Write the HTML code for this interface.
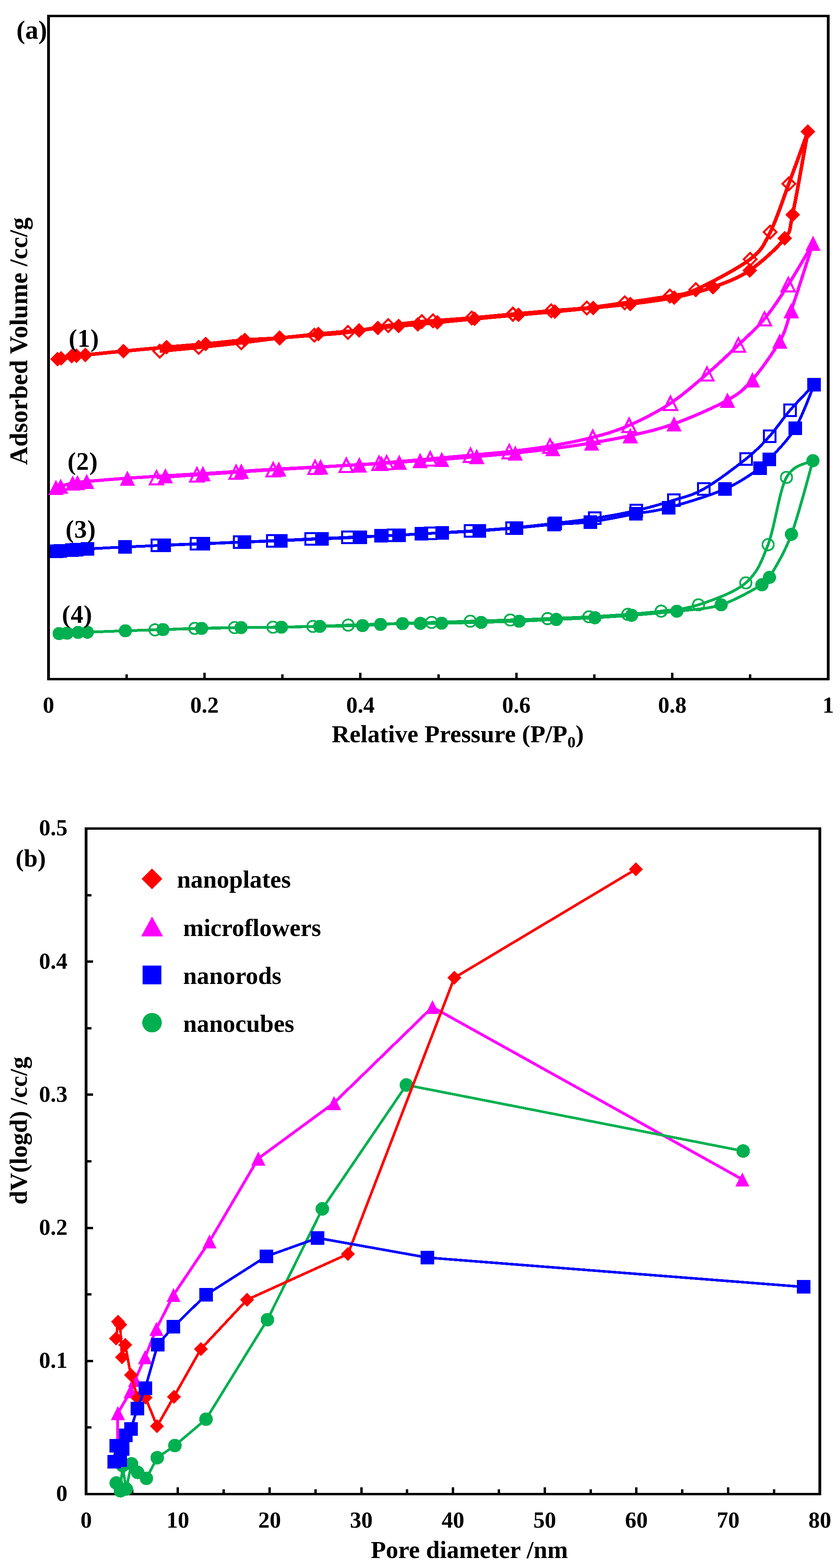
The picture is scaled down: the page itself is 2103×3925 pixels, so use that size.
<!DOCTYPE html>
<html><head><meta charset="utf-8"><title>Figure</title>
<style>html,body{margin:0;padding:0;background:#fff;}svg{display:block;}</style>
</head><body>
<svg shape-rendering="crispEdges" width="2103" height="3925" viewBox="0 0 2103 3925" font-family="'Liberation Serif', 'Times New Roman', serif" font-weight="bold">
<rect width="2103" height="3925" fill="#fff"/>
<rect x="121.5" y="40" width="1952" height="1660" fill="none" stroke="#000" stroke-width="6.5"/>
<rect x="313.7" y="1688" width="6" height="12" fill="#000"/>
<rect x="508.9" y="1684" width="6" height="16" fill="#000"/>
<rect x="704.1" y="1688" width="6" height="12" fill="#000"/>
<rect x="899.3" y="1684" width="6" height="16" fill="#000"/>
<rect x="1094.5" y="1688" width="6" height="12" fill="#000"/>
<rect x="1289.7" y="1684" width="6" height="16" fill="#000"/>
<rect x="1484.9" y="1688" width="6" height="12" fill="#000"/>
<rect x="1680.1" y="1684" width="6" height="16" fill="#000"/>
<rect x="1875.3" y="1688" width="6" height="12" fill="#000"/>
<path d="M148,1586 C151.3,1585.8 160.1,1585.5 168,1585 C175.9,1584.5 187,1583.4 195.4,1583 C203.8,1582.6 198.8,1583.2 218.6,1582.5 C238.4,1581.8 282.4,1580.1 314,1579 C345.6,1577.9 376.2,1577 408,1576 C439.8,1575 472.2,1573.8 504.8,1573 C537.4,1572.2 570.2,1571.5 603.5,1571 C636.8,1570.5 671.8,1570.5 704.6,1570 C737.5,1569.5 766.7,1568.7 800.6,1568 C834.5,1567.3 882.4,1566.8 907.8,1566 C933.2,1565.2 936.1,1563.8 952.8,1563 C969.5,1562.2 991.2,1561.4 1007.8,1561 C1024.4,1560.6 1036.1,1560.6 1052.4,1560.4 C1068.7,1560.2 1080.3,1560.4 1105.7,1560 C1131.1,1559.6 1172.2,1558.8 1204.6,1558 C1236.9,1557.2 1268.5,1556.2 1299.8,1555 C1331.1,1553.8 1361,1552.2 1392.6,1550.7 C1424.2,1549.2 1457.8,1548 1489.3,1546.3 C1520.8,1544.5 1547.1,1542.9 1581.3,1540.2 C1615.5,1537.5 1657.2,1534.4 1694.5,1530 C1731.8,1525.6 1769.9,1525 1805.4,1514 C1840.9,1503 1887.3,1475.3 1907.5,1463.8 C1927.7,1452.3 1914.1,1466.2 1926.4,1445.2 C1938.7,1424.2 1963.3,1386.2 1981.4,1337.5 C1999.5,1288.8 2026.2,1183.9 2035.2,1153.2" fill="none" stroke="#00B050" stroke-width="7" stroke-linejoin="round"/>
<path d="M2035.2,1153.2 C2024.2,1160.2 1987.7,1160 1969,1195 C1950.3,1230 1940,1319.3 1923,1363.3 C1906,1407.3 1896.2,1433.9 1867.2,1459 C1838.2,1484.1 1784,1502.2 1748.7,1514 C1713.4,1525.8 1684.7,1525.8 1655.2,1529.8 C1625.7,1533.8 1601.9,1535.4 1571.7,1537.8 C1541.5,1540.2 1507.8,1542.2 1474.3,1544 C1440.8,1545.8 1403.7,1547.2 1370.9,1548.5 C1338.1,1549.8 1309.7,1550.9 1277.4,1552 C1245.2,1553.1 1210.2,1554 1177.4,1555 C1144.6,1556 1131.4,1556.4 1080.4,1558 C1029.5,1559.6 921.2,1563.1 871.7,1564.8 C822.2,1566.5 814.9,1567.1 783.5,1568 C752.1,1568.9 716.2,1569.5 683.5,1570 C650.8,1570.5 620,1570.5 587.4,1571 C554.8,1571.5 521,1572 487.8,1573 C454.6,1574 404.6,1576.1 388,1576.7" fill="none" stroke="#00B050" stroke-width="7" stroke-linejoin="round"/>
<circle cx="1969" cy="1195" r="14.2" fill="none" stroke="#00B050" stroke-width="4.5"/>
<circle cx="1923" cy="1363.3" r="14.2" fill="none" stroke="#00B050" stroke-width="4.5"/>
<circle cx="1867.2" cy="1459" r="14.2" fill="none" stroke="#00B050" stroke-width="4.5"/>
<circle cx="1748.7" cy="1514" r="14.2" fill="none" stroke="#00B050" stroke-width="4.5"/>
<circle cx="1655.2" cy="1529.8" r="14.2" fill="none" stroke="#00B050" stroke-width="4.5"/>
<circle cx="1571.7" cy="1537.8" r="14.2" fill="none" stroke="#00B050" stroke-width="4.5"/>
<circle cx="1474.3" cy="1544" r="14.2" fill="none" stroke="#00B050" stroke-width="4.5"/>
<circle cx="1370.9" cy="1548.5" r="14.2" fill="none" stroke="#00B050" stroke-width="4.5"/>
<circle cx="1277.4" cy="1552" r="14.2" fill="none" stroke="#00B050" stroke-width="4.5"/>
<circle cx="1177.4" cy="1555" r="14.2" fill="none" stroke="#00B050" stroke-width="4.5"/>
<circle cx="1080.4" cy="1558" r="14.2" fill="none" stroke="#00B050" stroke-width="4.5"/>
<circle cx="871.7" cy="1564.8" r="14.2" fill="none" stroke="#00B050" stroke-width="4.5"/>
<circle cx="783.5" cy="1568" r="14.2" fill="none" stroke="#00B050" stroke-width="4.5"/>
<circle cx="683.5" cy="1570" r="14.2" fill="none" stroke="#00B050" stroke-width="4.5"/>
<circle cx="587.4" cy="1571" r="14.2" fill="none" stroke="#00B050" stroke-width="4.5"/>
<circle cx="487.8" cy="1573" r="14.2" fill="none" stroke="#00B050" stroke-width="4.5"/>
<circle cx="388" cy="1576.7" r="14.2" fill="none" stroke="#00B050" stroke-width="4.5"/>
<circle cx="148" cy="1586" r="16.5" fill="#00B050"/>
<circle cx="168" cy="1585" r="16.5" fill="#00B050"/>
<circle cx="195.4" cy="1583" r="16.5" fill="#00B050"/>
<circle cx="218.6" cy="1582.5" r="16.5" fill="#00B050"/>
<circle cx="314" cy="1579" r="16.5" fill="#00B050"/>
<circle cx="408" cy="1576" r="16.5" fill="#00B050"/>
<circle cx="504.8" cy="1573" r="16.5" fill="#00B050"/>
<circle cx="603.5" cy="1571" r="16.5" fill="#00B050"/>
<circle cx="704.6" cy="1570" r="16.5" fill="#00B050"/>
<circle cx="800.6" cy="1568" r="16.5" fill="#00B050"/>
<circle cx="907.8" cy="1566" r="16.5" fill="#00B050"/>
<circle cx="952.8" cy="1563" r="16.5" fill="#00B050"/>
<circle cx="1007.8" cy="1561" r="16.5" fill="#00B050"/>
<circle cx="1052.4" cy="1560.4" r="16.5" fill="#00B050"/>
<circle cx="1105.7" cy="1560" r="16.5" fill="#00B050"/>
<circle cx="1204.6" cy="1558" r="16.5" fill="#00B050"/>
<circle cx="1299.8" cy="1555" r="16.5" fill="#00B050"/>
<circle cx="1392.6" cy="1550.7" r="16.5" fill="#00B050"/>
<circle cx="1489.3" cy="1546.3" r="16.5" fill="#00B050"/>
<circle cx="1581.3" cy="1540.2" r="16.5" fill="#00B050"/>
<circle cx="1694.5" cy="1530" r="16.5" fill="#00B050"/>
<circle cx="1805.4" cy="1514" r="16.5" fill="#00B050"/>
<circle cx="1907.5" cy="1463.8" r="16.5" fill="#00B050"/>
<circle cx="1926.4" cy="1445.2" r="16.5" fill="#00B050"/>
<circle cx="1981.4" cy="1337.5" r="16.5" fill="#00B050"/>
<circle cx="2035.2" cy="1153.2" r="16.5" fill="#00B050"/>
<path d="M140,1219.8 C142,1219.3 145,1218.8 152,1217 C159,1215.2 175,1210.5 182,1209 C189,1207.5 188.2,1208.7 194,1208 C199.8,1207.3 196.2,1206.8 217,1205 C237.8,1203.2 286.2,1199.3 319,1197 C351.8,1194.7 382.5,1192.9 414,1191 C445.5,1189.1 476.3,1187.5 508,1185.6 C539.7,1183.7 572.3,1181.5 604,1179.6 C635.7,1177.7 664.9,1175.8 698,1174 C731.1,1172.2 769,1170.3 802.6,1168.6 C836.2,1166.8 874.2,1164.9 899.6,1163.5 C925,1162.1 938.1,1161.1 954.8,1160 C971.5,1158.9 983.5,1158.2 999.6,1157 C1015.8,1155.8 1034,1154.2 1051.7,1153 C1069.4,1151.8 1082.4,1151.7 1106,1150 C1129.6,1148.3 1162.8,1145.5 1193.5,1142.8 C1224.2,1140.1 1258.2,1137.3 1290,1134 C1321.8,1130.7 1352.2,1127.2 1384,1123 C1415.8,1118.8 1448.7,1114.2 1481,1108.8 C1513.3,1103.4 1543.6,1098.5 1578,1090.5 C1612.4,1082.5 1646.8,1075.8 1687.4,1061 C1728,1046.2 1788.7,1020 1821.4,1001.6 C1854.1,983.2 1861.9,975.2 1883.7,950.5 C1905.5,925.8 1936.1,882.5 1952.3,853.6 C1968.5,824.7 1967.1,818 1981,777.2 C1994.9,736.4 2026.4,637 2035.5,609" fill="none" stroke="#FF00FF" stroke-width="8" stroke-linejoin="round"/>
<path d="M2035.5,609 C2025.2,626.3 1993.8,681.2 1973.5,712.7 C1953.2,744.2 1934.8,772.9 1914,798 C1893.2,823.1 1872.5,840.5 1848.5,863.5 C1824.5,886.5 1798.3,911.7 1770,936 C1741.7,960.3 1711.2,987.9 1678.7,1009.4 C1646.2,1030.9 1607.5,1050.6 1575,1064.8 C1542.5,1079 1517,1086.2 1484,1094.8 C1451,1103.4 1411.8,1110.7 1377,1116.6 C1342.2,1122.5 1308.2,1126.6 1275,1130.4 C1241.8,1134.2 1211,1136.5 1178,1139.6 C1145,1142.6 1112,1145.6 1077,1148.7 C1042,1151.8 989.4,1156.1 968,1158 C946.6,1159.9 965.5,1158.9 948.7,1160 C931.9,1161.1 893.7,1163.1 867,1164.8 C840.3,1166.5 819.2,1168.2 788.7,1170 C758.2,1171.8 717,1173.7 684,1175.7 C651,1177.7 622.8,1179.9 591,1182 C559.2,1184.1 526.2,1186.2 493,1188.5 C459.8,1190.8 408.6,1194.5 391.7,1195.7" fill="none" stroke="#FF00FF" stroke-width="8" stroke-linejoin="round"/>
<path d="M1973.5,696 L1990.2,729.5 L1956.8,729.5Z" fill="none" stroke="#FF00FF" stroke-width="5" stroke-linejoin="miter"/>
<path d="M1914,781.2 L1930.8,814.8 L1897.2,814.8Z" fill="none" stroke="#FF00FF" stroke-width="5" stroke-linejoin="miter"/>
<path d="M1848.5,846.8 L1865.2,880.2 L1831.8,880.2Z" fill="none" stroke="#FF00FF" stroke-width="5" stroke-linejoin="miter"/>
<path d="M1770,919.2 L1786.8,952.8 L1753.2,952.8Z" fill="none" stroke="#FF00FF" stroke-width="5" stroke-linejoin="miter"/>
<path d="M1678.7,992.6 L1695.5,1026.2 L1662,1026.2Z" fill="none" stroke="#FF00FF" stroke-width="5" stroke-linejoin="miter"/>
<path d="M1575,1048 L1591.8,1081.5 L1558.2,1081.5Z" fill="none" stroke="#FF00FF" stroke-width="5" stroke-linejoin="miter"/>
<path d="M1484,1078 L1500.8,1111.5 L1467.2,1111.5Z" fill="none" stroke="#FF00FF" stroke-width="5" stroke-linejoin="miter"/>
<path d="M1377,1099.8 L1393.8,1133.3 L1360.2,1133.3Z" fill="none" stroke="#FF00FF" stroke-width="5" stroke-linejoin="miter"/>
<path d="M1275,1113.7 L1291.8,1147.2 L1258.2,1147.2Z" fill="none" stroke="#FF00FF" stroke-width="5" stroke-linejoin="miter"/>
<path d="M1178,1122.8 L1194.8,1156.3 L1161.2,1156.3Z" fill="none" stroke="#FF00FF" stroke-width="5" stroke-linejoin="miter"/>
<path d="M1077,1132 L1093.8,1165.5 L1060.2,1165.5Z" fill="none" stroke="#FF00FF" stroke-width="5" stroke-linejoin="miter"/>
<path d="M968,1141.2 L984.8,1174.8 L951.2,1174.8Z" fill="none" stroke="#FF00FF" stroke-width="5" stroke-linejoin="miter"/>
<path d="M948.7,1143.2 L965.5,1176.8 L932,1176.8Z" fill="none" stroke="#FF00FF" stroke-width="5" stroke-linejoin="miter"/>
<path d="M867,1148 L883.8,1181.5 L850.2,1181.5Z" fill="none" stroke="#FF00FF" stroke-width="5" stroke-linejoin="miter"/>
<path d="M788.7,1153.2 L805.5,1186.8 L772,1186.8Z" fill="none" stroke="#FF00FF" stroke-width="5" stroke-linejoin="miter"/>
<path d="M684,1159 L700.8,1192.5 L667.2,1192.5Z" fill="none" stroke="#FF00FF" stroke-width="5" stroke-linejoin="miter"/>
<path d="M591,1165.2 L607.8,1198.8 L574.2,1198.8Z" fill="none" stroke="#FF00FF" stroke-width="5" stroke-linejoin="miter"/>
<path d="M493,1171.8 L509.8,1205.2 L476.2,1205.2Z" fill="none" stroke="#FF00FF" stroke-width="5" stroke-linejoin="miter"/>
<path d="M391.7,1179 L408.4,1212.5 L374.9,1212.5Z" fill="none" stroke="#FF00FF" stroke-width="5" stroke-linejoin="miter"/>
<path d="M140,1200.5 L159.2,1239 L120.8,1239Z" fill="#FF00FF" stroke-linejoin="miter"/>
<path d="M152,1197.8 L171.2,1236.2 L132.8,1236.2Z" fill="#FF00FF" stroke-linejoin="miter"/>
<path d="M182,1189.8 L201.2,1228.2 L162.8,1228.2Z" fill="#FF00FF" stroke-linejoin="miter"/>
<path d="M194,1188.8 L213.2,1227.2 L174.8,1227.2Z" fill="#FF00FF" stroke-linejoin="miter"/>
<path d="M217,1185.8 L236.2,1224.2 L197.8,1224.2Z" fill="#FF00FF" stroke-linejoin="miter"/>
<path d="M319,1177.8 L338.2,1216.2 L299.8,1216.2Z" fill="#FF00FF" stroke-linejoin="miter"/>
<path d="M414,1171.8 L433.2,1210.2 L394.8,1210.2Z" fill="#FF00FF" stroke-linejoin="miter"/>
<path d="M508,1166.3 L527.2,1204.8 L488.8,1204.8Z" fill="#FF00FF" stroke-linejoin="miter"/>
<path d="M604,1160.3 L623.2,1198.8 L584.8,1198.8Z" fill="#FF00FF" stroke-linejoin="miter"/>
<path d="M698,1154.8 L717.2,1193.2 L678.8,1193.2Z" fill="#FF00FF" stroke-linejoin="miter"/>
<path d="M802.6,1149.3 L821.9,1187.8 L783.4,1187.8Z" fill="#FF00FF" stroke-linejoin="miter"/>
<path d="M899.6,1144.2 L918.9,1182.8 L880.4,1182.8Z" fill="#FF00FF" stroke-linejoin="miter"/>
<path d="M954.8,1140.8 L974,1179.2 L935.5,1179.2Z" fill="#FF00FF" stroke-linejoin="miter"/>
<path d="M999.6,1137.8 L1018.9,1176.2 L980.4,1176.2Z" fill="#FF00FF" stroke-linejoin="miter"/>
<path d="M1051.7,1133.8 L1071,1172.2 L1032.5,1172.2Z" fill="#FF00FF" stroke-linejoin="miter"/>
<path d="M1106,1130.8 L1125.2,1169.2 L1086.8,1169.2Z" fill="#FF00FF" stroke-linejoin="miter"/>
<path d="M1193.5,1123.5 L1212.8,1162 L1174.2,1162Z" fill="#FF00FF" stroke-linejoin="miter"/>
<path d="M1290,1114.8 L1309.2,1153.2 L1270.8,1153.2Z" fill="#FF00FF" stroke-linejoin="miter"/>
<path d="M1384,1103.8 L1403.2,1142.2 L1364.8,1142.2Z" fill="#FF00FF" stroke-linejoin="miter"/>
<path d="M1481,1089.5 L1500.2,1128 L1461.8,1128Z" fill="#FF00FF" stroke-linejoin="miter"/>
<path d="M1578,1071.2 L1597.2,1109.8 L1558.8,1109.8Z" fill="#FF00FF" stroke-linejoin="miter"/>
<path d="M1687.4,1041.8 L1706.7,1080.2 L1668.2,1080.2Z" fill="#FF00FF" stroke-linejoin="miter"/>
<path d="M1821.4,982.4 L1840.7,1020.9 L1802.2,1020.9Z" fill="#FF00FF" stroke-linejoin="miter"/>
<path d="M1883.7,931.2 L1903,969.8 L1864.5,969.8Z" fill="#FF00FF" stroke-linejoin="miter"/>
<path d="M1952.3,834.4 L1971.5,872.9 L1933,872.9Z" fill="#FF00FF" stroke-linejoin="miter"/>
<path d="M1981,758 L2000.2,796.5 L1961.8,796.5Z" fill="#FF00FF" stroke-linejoin="miter"/>
<path d="M2035.5,589.8 L2054.8,628.2 L2016.2,628.2Z" fill="#FF00FF" stroke-linejoin="miter"/>
<path d="M143.9,898.9 C145.3,898.6 146.6,898.2 152.6,897 C158.6,895.8 173.3,892.8 179.8,891.7 C186.3,890.7 186,891.2 191.7,890.7 C197.4,890.2 194.4,890.5 213.9,888.5 C233.4,886.5 274.6,882.2 308.5,879 C342.4,875.8 383,872 417.4,869 C451.8,866 482.4,864 515,861 C547.6,858 582,853.5 613,851 C644,848.5 670.4,848.5 701,846 C731.6,843.5 763.5,839.2 796.5,836 C829.5,832.8 873.9,829.5 898.7,827 C923.6,824.5 929.1,822.8 945.6,821 C962.1,819.2 981.3,817.5 998,816 C1014.7,814.5 1029.8,813.5 1046,812 C1062.2,810.5 1071.3,809.3 1095,807 C1118.7,804.7 1154.2,801.2 1188,798 C1221.8,794.8 1264.5,791 1298,788 C1331.5,785 1357.8,782.9 1389,780 C1420.2,777.1 1453.5,773.8 1485,770.6 C1516.5,767.4 1544.2,765.1 1578,760.8 C1611.8,756.5 1653.6,751.7 1688,744.7 C1722.4,737.7 1753,730.3 1784.5,719 C1816,707.7 1847,697.1 1877,676.7 C1907,656.3 1946.6,620 1964.5,596.8 C1982.4,573.6 1974.5,582.3 1984.2,537.7 C1993.9,493.1 2016.1,364.1 2022.5,329.4" fill="none" stroke="#FF0000" stroke-width="9" stroke-linejoin="round"/>
<path d="M2022.5,329.4 C2014.5,351.2 1990.5,418.3 1974.8,460.2 C1959.1,502.1 1944.5,549.5 1928.4,581 C1912.3,612.5 1909.1,625 1878,649 C1846.9,673 1775.5,709.7 1742,725 C1708.5,740.3 1706.7,735.5 1677,741 C1647.3,746.5 1598.7,753 1564,758 C1529.3,763 1499.7,767.7 1469,771 C1438.3,774.3 1410.8,775.4 1380,778 C1349.2,780.6 1317.2,783.5 1284,786.5 C1250.8,789.5 1214.3,793.2 1181,796 C1147.7,798.8 1104.8,801.5 1084,803 C1063.2,804.5 1074.7,803 1056,805 C1037.3,807 1002.5,810.5 971.7,815 C940.9,819.5 901.8,828 871,832 C840.2,836 815.5,836.7 787,839 C758.5,841.3 730.5,842.8 700,846 C669.5,849.2 637.7,854.1 604,858 C570.3,861.9 531.8,866.1 497.8,869.6 C463.8,873.1 416.3,877.4 400,879" fill="none" stroke="#FF0000" stroke-width="9" stroke-linejoin="round"/>
<path d="M1974.8,444.2 L1990.8,460.2 L1974.8,476.2 L1958.8,460.2Z" fill="none" stroke="#FF0000" stroke-width="5"/>
<path d="M1928.4,565 L1944.4,581 L1928.4,597 L1912.4,581Z" fill="none" stroke="#FF0000" stroke-width="5"/>
<path d="M1878,633 L1894,649 L1878,665 L1862,649Z" fill="none" stroke="#FF0000" stroke-width="5"/>
<path d="M1742,709 L1758,725 L1742,741 L1726,725Z" fill="none" stroke="#FF0000" stroke-width="5"/>
<path d="M1677,725 L1693,741 L1677,757 L1661,741Z" fill="none" stroke="#FF0000" stroke-width="5"/>
<path d="M1564,742 L1580,758 L1564,774 L1548,758Z" fill="none" stroke="#FF0000" stroke-width="5"/>
<path d="M1469,755 L1485,771 L1469,787 L1453,771Z" fill="none" stroke="#FF0000" stroke-width="5"/>
<path d="M1380,762 L1396,778 L1380,794 L1364,778Z" fill="none" stroke="#FF0000" stroke-width="5"/>
<path d="M1284,770.5 L1300,786.5 L1284,802.5 L1268,786.5Z" fill="none" stroke="#FF0000" stroke-width="5"/>
<path d="M1181,780 L1197,796 L1181,812 L1165,796Z" fill="none" stroke="#FF0000" stroke-width="5"/>
<path d="M1084,787 L1100,803 L1084,819 L1068,803Z" fill="none" stroke="#FF0000" stroke-width="5"/>
<path d="M1056,789 L1072,805 L1056,821 L1040,805Z" fill="none" stroke="#FF0000" stroke-width="5"/>
<path d="M971.7,799 L987.7,815 L971.7,831 L955.7,815Z" fill="none" stroke="#FF0000" stroke-width="5"/>
<path d="M871,816 L887,832 L871,848 L855,832Z" fill="none" stroke="#FF0000" stroke-width="5"/>
<path d="M787,823 L803,839 L787,855 L771,839Z" fill="none" stroke="#FF0000" stroke-width="5"/>
<path d="M700,830 L716,846 L700,862 L684,846Z" fill="none" stroke="#FF0000" stroke-width="5"/>
<path d="M604,842 L620,858 L604,874 L588,858Z" fill="none" stroke="#FF0000" stroke-width="5"/>
<path d="M497.8,853.6 L513.8,869.6 L497.8,885.6 L481.8,869.6Z" fill="none" stroke="#FF0000" stroke-width="5"/>
<path d="M400,863 L416,879 L400,895 L384,879Z" fill="none" stroke="#FF0000" stroke-width="5"/>
<path d="M143.9,880.4 L162.4,898.9 L143.9,917.4 L125.4,898.9Z" fill="#FF0000"/>
<path d="M152.6,878.5 L171.1,897 L152.6,915.5 L134.1,897Z" fill="#FF0000"/>
<path d="M179.8,873.2 L198.3,891.7 L179.8,910.2 L161.3,891.7Z" fill="#FF0000"/>
<path d="M191.7,872.2 L210.2,890.7 L191.7,909.2 L173.2,890.7Z" fill="#FF0000"/>
<path d="M213.9,870 L232.4,888.5 L213.9,907 L195.4,888.5Z" fill="#FF0000"/>
<path d="M308.5,860.5 L327,879 L308.5,897.5 L290,879Z" fill="#FF0000"/>
<path d="M417.4,850.5 L435.9,869 L417.4,887.5 L398.9,869Z" fill="#FF0000"/>
<path d="M515,842.5 L533.5,861 L515,879.5 L496.5,861Z" fill="#FF0000"/>
<path d="M613,832.5 L631.5,851 L613,869.5 L594.5,851Z" fill="#FF0000"/>
<path d="M701,827.5 L719.5,846 L701,864.5 L682.5,846Z" fill="#FF0000"/>
<path d="M796.5,817.5 L815,836 L796.5,854.5 L778,836Z" fill="#FF0000"/>
<path d="M898.7,808.5 L917.2,827 L898.7,845.5 L880.2,827Z" fill="#FF0000"/>
<path d="M945.6,802.5 L964.1,821 L945.6,839.5 L927.1,821Z" fill="#FF0000"/>
<path d="M998,797.5 L1016.5,816 L998,834.5 L979.5,816Z" fill="#FF0000"/>
<path d="M1046,793.5 L1064.5,812 L1046,830.5 L1027.5,812Z" fill="#FF0000"/>
<path d="M1095,788.5 L1113.5,807 L1095,825.5 L1076.5,807Z" fill="#FF0000"/>
<path d="M1188,779.5 L1206.5,798 L1188,816.5 L1169.5,798Z" fill="#FF0000"/>
<path d="M1298,769.5 L1316.5,788 L1298,806.5 L1279.5,788Z" fill="#FF0000"/>
<path d="M1389,761.5 L1407.5,780 L1389,798.5 L1370.5,780Z" fill="#FF0000"/>
<path d="M1485,752.1 L1503.5,770.6 L1485,789.1 L1466.5,770.6Z" fill="#FF0000"/>
<path d="M1578,742.3 L1596.5,760.8 L1578,779.3 L1559.5,760.8Z" fill="#FF0000"/>
<path d="M1688,726.2 L1706.5,744.7 L1688,763.2 L1669.5,744.7Z" fill="#FF0000"/>
<path d="M1784.5,700.5 L1803,719 L1784.5,737.5 L1766,719Z" fill="#FF0000"/>
<path d="M1877,658.2 L1895.5,676.7 L1877,695.2 L1858.5,676.7Z" fill="#FF0000"/>
<path d="M1964.5,578.3 L1983,596.8 L1964.5,615.3 L1946,596.8Z" fill="#FF0000"/>
<path d="M1984.2,519.2 L2002.7,537.7 L1984.2,556.2 L1965.7,537.7Z" fill="#FF0000"/>
<path d="M2022.5,310.9 L2041,329.4 L2022.5,347.9 L2004,329.4Z" fill="#FF0000"/>
<path d="M141.7,1380 C143.2,1379.8 144.6,1379.5 151,1379 C157.4,1378.5 173.2,1377.5 180,1377 C186.8,1376.5 185.6,1376.5 192,1376 C198.4,1375.5 198.4,1375.1 218.6,1374 C238.8,1372.9 280.9,1370.7 313,1369.2 C345.1,1367.7 378.4,1366.3 411,1365 C443.6,1363.7 475.1,1362.6 508.6,1361.3 C542.1,1360 579.5,1358.3 612,1357 C644.5,1355.7 671.1,1354.8 703.4,1353.5 C735.7,1352.2 772.5,1350.4 805.6,1349 C838.7,1347.6 877.4,1346.3 902,1345 C926.6,1343.7 937.3,1342.1 953.5,1341.3 C969.7,1340.5 982.1,1340.9 999,1340 C1015.9,1339.1 1037,1337 1055,1336 C1073,1335 1082.8,1335.2 1107,1334 C1131.2,1332.8 1168.9,1331.1 1200,1329 C1231.1,1326.9 1262.2,1324.2 1293.4,1321.5 C1324.6,1318.8 1356.3,1315.1 1387,1312.6 C1417.7,1310.1 1443.6,1310.9 1477.8,1306.5 C1512,1302.1 1559.2,1292 1592,1286 C1624.8,1280 1637.3,1280.9 1674.4,1270.6 C1711.5,1260.3 1776.5,1240.7 1814.6,1224.3 C1852.6,1207.9 1884.2,1184.3 1902.7,1172 C1921.2,1159.7 1910.9,1167 1925.6,1150.3 C1940.3,1133.6 1972.2,1103 1991,1071.7 C2009.8,1040.5 2030.5,980.9 2038.4,962.8" fill="none" stroke="#0000FF" stroke-width="7" stroke-linejoin="round"/>
<path d="M2038.4,962.8 C2028.2,973.6 1996.1,1005.9 1977.5,1027.4 C1958.9,1048.9 1944.8,1071.8 1926.6,1092 C1908.3,1112.2 1895.4,1126.5 1868,1148.5 C1840.6,1170.5 1792.2,1206.8 1762,1224 C1731.8,1241.2 1715.2,1243 1687,1252 C1658.8,1261 1626,1270.4 1593,1278 C1560,1285.6 1522.6,1292.1 1488.8,1297.4 C1455,1302.7 1424.9,1305.9 1390.4,1309.9 C1355.9,1313.9 1317.4,1318.3 1282,1321.5 C1246.6,1324.7 1212,1326.8 1178,1329 C1144,1331.2 1110.2,1333.2 1078,1335 C1045.8,1336.8 1019.5,1338.3 985,1340 C950.5,1341.7 905.4,1343.5 871,1345 C836.6,1346.5 810,1347.6 778.7,1349 C747.4,1350.4 712.9,1352.2 683,1353.5 C653.1,1354.8 631.4,1355.7 599.6,1357 C567.8,1358.3 526.3,1360 492,1361.3 C457.7,1362.6 410.3,1364.4 394,1365" fill="none" stroke="#0000FF" stroke-width="7" stroke-linejoin="round"/>
<rect x="1963" y="1012.9" width="29" height="29" fill="none" stroke="#0000FF" stroke-width="5"/>
<rect x="1912.1" y="1077.5" width="29" height="29" fill="none" stroke="#0000FF" stroke-width="5"/>
<rect x="1853.5" y="1134" width="29" height="29" fill="none" stroke="#0000FF" stroke-width="5"/>
<rect x="1747.5" y="1209.5" width="29" height="29" fill="none" stroke="#0000FF" stroke-width="5"/>
<rect x="1672.5" y="1237.5" width="29" height="29" fill="none" stroke="#0000FF" stroke-width="5"/>
<rect x="1578.5" y="1263.5" width="29" height="29" fill="none" stroke="#0000FF" stroke-width="5"/>
<rect x="1474.3" y="1282.9" width="29" height="29" fill="none" stroke="#0000FF" stroke-width="5"/>
<rect x="1375.9" y="1295.4" width="29" height="29" fill="none" stroke="#0000FF" stroke-width="5"/>
<rect x="1267.5" y="1307" width="29" height="29" fill="none" stroke="#0000FF" stroke-width="5"/>
<rect x="1163.5" y="1314.5" width="29" height="29" fill="none" stroke="#0000FF" stroke-width="5"/>
<rect x="1063.5" y="1320.5" width="29" height="29" fill="none" stroke="#0000FF" stroke-width="5"/>
<rect x="970.5" y="1325.5" width="29" height="29" fill="none" stroke="#0000FF" stroke-width="5"/>
<rect x="856.5" y="1330.5" width="29" height="29" fill="none" stroke="#0000FF" stroke-width="5"/>
<rect x="764.2" y="1334.5" width="29" height="29" fill="none" stroke="#0000FF" stroke-width="5"/>
<rect x="668.5" y="1339" width="29" height="29" fill="none" stroke="#0000FF" stroke-width="5"/>
<rect x="585.1" y="1342.5" width="29" height="29" fill="none" stroke="#0000FF" stroke-width="5"/>
<rect x="477.5" y="1346.8" width="29" height="29" fill="none" stroke="#0000FF" stroke-width="5"/>
<rect x="379.5" y="1350.5" width="29" height="29" fill="none" stroke="#0000FF" stroke-width="5"/>
<rect x="124.7" y="1363" width="34" height="34" fill="#0000FF"/>
<rect x="134" y="1362" width="34" height="34" fill="#0000FF"/>
<rect x="163" y="1360" width="34" height="34" fill="#0000FF"/>
<rect x="175" y="1359" width="34" height="34" fill="#0000FF"/>
<rect x="201.6" y="1357" width="34" height="34" fill="#0000FF"/>
<rect x="296" y="1352.2" width="34" height="34" fill="#0000FF"/>
<rect x="394" y="1348" width="34" height="34" fill="#0000FF"/>
<rect x="491.6" y="1344.3" width="34" height="34" fill="#0000FF"/>
<rect x="595" y="1340" width="34" height="34" fill="#0000FF"/>
<rect x="686.4" y="1336.5" width="34" height="34" fill="#0000FF"/>
<rect x="788.6" y="1332" width="34" height="34" fill="#0000FF"/>
<rect x="885" y="1328" width="34" height="34" fill="#0000FF"/>
<rect x="936.5" y="1324.3" width="34" height="34" fill="#0000FF"/>
<rect x="982" y="1323" width="34" height="34" fill="#0000FF"/>
<rect x="1038" y="1319" width="34" height="34" fill="#0000FF"/>
<rect x="1090" y="1317" width="34" height="34" fill="#0000FF"/>
<rect x="1183" y="1312" width="34" height="34" fill="#0000FF"/>
<rect x="1276.4" y="1304.5" width="34" height="34" fill="#0000FF"/>
<rect x="1370" y="1295.6" width="34" height="34" fill="#0000FF"/>
<rect x="1460.8" y="1289.5" width="34" height="34" fill="#0000FF"/>
<rect x="1575" y="1269" width="34" height="34" fill="#0000FF"/>
<rect x="1657.4" y="1253.6" width="34" height="34" fill="#0000FF"/>
<rect x="1797.6" y="1207.3" width="34" height="34" fill="#0000FF"/>
<rect x="1885.7" y="1155" width="34" height="34" fill="#0000FF"/>
<rect x="1908.6" y="1133.3" width="34" height="34" fill="#0000FF"/>
<rect x="1974" y="1054.7" width="34" height="34" fill="#0000FF"/>
<rect x="2021.4" y="945.8" width="34" height="34" fill="#0000FF"/>
<text x="121.5" y="1783.5" font-size="57" text-anchor="middle">0</text>
<text x="511.9" y="1783.5" font-size="57" text-anchor="middle">0.2</text>
<text x="902.3" y="1783.5" font-size="57" text-anchor="middle">0.4</text>
<text x="1292.7" y="1783.5" font-size="57" text-anchor="middle">0.6</text>
<text x="1683.1" y="1783.5" font-size="57" text-anchor="middle">0.8</text>
<text x="2073.5" y="1783.5" font-size="57" text-anchor="middle">1</text>
<text x="1146" y="1858" font-size="62" text-anchor="middle">Relative Pressure (P/P<tspan font-size="41" dy="13">0</tspan><tspan dy="-13">)</tspan></text>
<text transform="translate(67.5,854) rotate(-90)" font-size="63" text-anchor="middle">Adsorbed Volume /cc/g</text>
<text x="41" y="96.8" font-size="66">(a)</text>
<text x="172" y="868" font-size="63" letter-spacing="1">(1)</text>
<text x="169" y="1176" font-size="63" letter-spacing="1">(2)</text>
<text x="164" y="1346" font-size="63" letter-spacing="1">(3)</text>
<text x="155" y="1559" font-size="63" letter-spacing="1">(4)</text>
<rect x="215.7" y="2074" width="1836.8" height="1666" fill="none" stroke="#000" stroke-width="6.5"/>
<rect x="327.5" y="3728" width="6" height="12" fill="#000"/>
<rect x="442.3" y="3722.7" width="6" height="17.3" fill="#000"/>
<rect x="557.1" y="3728" width="6" height="12" fill="#000"/>
<rect x="671.9" y="3722.7" width="6" height="17.3" fill="#000"/>
<rect x="786.7" y="3728" width="6" height="12" fill="#000"/>
<rect x="901.5" y="3722.7" width="6" height="17.3" fill="#000"/>
<rect x="1016.3" y="3728" width="6" height="12" fill="#000"/>
<rect x="1131.1" y="3722.7" width="6" height="17.3" fill="#000"/>
<rect x="1245.9" y="3728" width="6" height="12" fill="#000"/>
<rect x="1360.7" y="3722.7" width="6" height="17.3" fill="#000"/>
<rect x="1475.5" y="3728" width="6" height="12" fill="#000"/>
<rect x="1590.3" y="3722.7" width="6" height="17.3" fill="#000"/>
<rect x="1705.1" y="3728" width="6" height="12" fill="#000"/>
<rect x="1819.9" y="3722.7" width="6" height="17.3" fill="#000"/>
<rect x="1934.7" y="3728" width="6" height="12" fill="#000"/>
<rect x="215" y="3570.4" width="14" height="6" fill="#000"/>
<rect x="215" y="3403.8" width="18" height="6" fill="#000"/>
<rect x="215" y="3237.2" width="14" height="6" fill="#000"/>
<rect x="215" y="3070.6" width="18" height="6" fill="#000"/>
<rect x="215" y="2904" width="14" height="6" fill="#000"/>
<rect x="215" y="2737.4" width="18" height="6" fill="#000"/>
<rect x="215" y="2570.8" width="14" height="6" fill="#000"/>
<rect x="215" y="2404.2" width="18" height="6" fill="#000"/>
<rect x="215" y="2237.6" width="14" height="6" fill="#000"/>
<path d="M285.5,3657.5 L294,3612 L295.3,3537 L327,3482.6 L338.4,3454 L363.4,3397 L391.4,3326.3 L434.6,3241.3 L524.6,3107.4 L646.5,2900 L836,2761 L1082.6,2520.9 L1858.5,2952.3" fill="none" stroke="#FF00FF" stroke-width="7" stroke-linejoin="round"/>
<path d="M285.5,3640 L303,3675 L268,3675Z" fill="#FF00FF" stroke-linejoin="miter"/>
<path d="M294,3594.5 L311.5,3629.5 L276.5,3629.5Z" fill="#FF00FF" stroke-linejoin="miter"/>
<path d="M295.3,3519.5 L312.8,3554.5 L277.8,3554.5Z" fill="#FF00FF" stroke-linejoin="miter"/>
<path d="M327,3465.1 L344.5,3500.1 L309.5,3500.1Z" fill="#FF00FF" stroke-linejoin="miter"/>
<path d="M338.4,3436.5 L355.9,3471.5 L320.9,3471.5Z" fill="#FF00FF" stroke-linejoin="miter"/>
<path d="M363.4,3379.5 L380.9,3414.5 L345.9,3414.5Z" fill="#FF00FF" stroke-linejoin="miter"/>
<path d="M391.4,3308.8 L408.9,3343.8 L373.9,3343.8Z" fill="#FF00FF" stroke-linejoin="miter"/>
<path d="M434.6,3223.8 L452.1,3258.8 L417.1,3258.8Z" fill="#FF00FF" stroke-linejoin="miter"/>
<path d="M524.6,3089.9 L542.1,3124.9 L507.1,3124.9Z" fill="#FF00FF" stroke-linejoin="miter"/>
<path d="M646.5,2882.5 L664,2917.5 L629,2917.5Z" fill="#FF00FF" stroke-linejoin="miter"/>
<path d="M836,2743.5 L853.5,2778.5 L818.5,2778.5Z" fill="#FF00FF" stroke-linejoin="miter"/>
<path d="M1082.6,2503.4 L1100.1,2538.4 L1065.1,2538.4Z" fill="#FF00FF" stroke-linejoin="miter"/>
<path d="M1858.5,2934.8 L1876,2969.8 L1841,2969.8Z" fill="#FF00FF" stroke-linejoin="miter"/>
<path d="M291.1,3712.2 L301.5,3731.7 L306.7,3668.7 L315.9,3727 L329.3,3664.3 L344.6,3685.7 L366.5,3700.6 L393.6,3649 L437.8,3618.5 L515.7,3552.5 L669.5,3303.5 L807,3026 L1017.4,2716 L1860.5,2881.3" fill="none" stroke="#00B050" stroke-width="6.5" stroke-linejoin="round"/>
<circle cx="291.1" cy="3712.2" r="17" fill="#00B050"/>
<circle cx="301.5" cy="3731.7" r="17" fill="#00B050"/>
<circle cx="306.7" cy="3668.7" r="17" fill="#00B050"/>
<circle cx="315.9" cy="3727" r="17" fill="#00B050"/>
<circle cx="329.3" cy="3664.3" r="17" fill="#00B050"/>
<circle cx="344.6" cy="3685.7" r="17" fill="#00B050"/>
<circle cx="366.5" cy="3700.6" r="17" fill="#00B050"/>
<circle cx="393.6" cy="3649" r="17" fill="#00B050"/>
<circle cx="437.8" cy="3618.5" r="17" fill="#00B050"/>
<circle cx="515.7" cy="3552.5" r="17" fill="#00B050"/>
<circle cx="669.5" cy="3303.5" r="17" fill="#00B050"/>
<circle cx="807" cy="3026" r="17" fill="#00B050"/>
<circle cx="1017.4" cy="2716" r="17" fill="#00B050"/>
<circle cx="1860.5" cy="2881.3" r="17" fill="#00B050"/>
<path d="M290.7,3350.4 L295.5,3308.4 L300.6,3316 L305.7,3397.5 L313.6,3366.4 L327.5,3442 L344.8,3499.4 L364.3,3498.7 L393.3,3570 L435.2,3496.5 L503,3376.8 L618.5,3253.5 L871,3139 L1137.5,2447.6 L1591.6,2176.1" fill="none" stroke="#FF0000" stroke-width="6.5" stroke-linejoin="round"/>
<path d="M290.7,3332.9 L308.2,3350.4 L290.7,3367.9 L273.2,3350.4Z" fill="#FF0000"/>
<path d="M295.5,3290.9 L313,3308.4 L295.5,3325.9 L278,3308.4Z" fill="#FF0000"/>
<path d="M300.6,3298.5 L318.1,3316 L300.6,3333.5 L283.1,3316Z" fill="#FF0000"/>
<path d="M305.7,3380 L323.2,3397.5 L305.7,3415 L288.2,3397.5Z" fill="#FF0000"/>
<path d="M313.6,3348.9 L331.1,3366.4 L313.6,3383.9 L296.1,3366.4Z" fill="#FF0000"/>
<path d="M327.5,3424.5 L345,3442 L327.5,3459.5 L310,3442Z" fill="#FF0000"/>
<path d="M344.8,3481.9 L362.3,3499.4 L344.8,3516.9 L327.3,3499.4Z" fill="#FF0000"/>
<path d="M364.3,3481.2 L381.8,3498.7 L364.3,3516.2 L346.8,3498.7Z" fill="#FF0000"/>
<path d="M393.3,3552.5 L410.8,3570 L393.3,3587.5 L375.8,3570Z" fill="#FF0000"/>
<path d="M435.2,3479 L452.7,3496.5 L435.2,3514 L417.7,3496.5Z" fill="#FF0000"/>
<path d="M503,3359.3 L520.5,3376.8 L503,3394.3 L485.5,3376.8Z" fill="#FF0000"/>
<path d="M618.5,3236 L636,3253.5 L618.5,3271 L601,3253.5Z" fill="#FF0000"/>
<path d="M871,3121.5 L888.5,3139 L871,3156.5 L853.5,3139Z" fill="#FF0000"/>
<path d="M1137.5,2430.1 L1155,2447.6 L1137.5,2465.1 L1120,2447.6Z" fill="#FF0000"/>
<path d="M1591.6,2158.6 L1609.1,2176.1 L1591.6,2193.6 L1574.1,2176.1Z" fill="#FF0000"/>
<path d="M285.5,3658.5 L291.3,3619.3 L300.6,3655.2 L306.5,3626.7 L314.5,3592.5 L327.5,3577.4 L343.8,3526.4 L363.5,3475.3 L394.8,3365.7 L433.9,3321.4 L515.9,3241.3 L667.2,3144.8 L795.3,3098.9 L1070,3148 L2011.6,3221.4" fill="none" stroke="#0000FF" stroke-width="6.5" stroke-linejoin="round"/>
<rect x="268.5" y="3641.5" width="34" height="34" fill="#0000FF"/>
<rect x="274.3" y="3602.3" width="34" height="34" fill="#0000FF"/>
<rect x="283.6" y="3638.2" width="34" height="34" fill="#0000FF"/>
<rect x="289.5" y="3609.7" width="34" height="34" fill="#0000FF"/>
<rect x="297.5" y="3575.5" width="34" height="34" fill="#0000FF"/>
<rect x="310.5" y="3560.4" width="34" height="34" fill="#0000FF"/>
<rect x="326.8" y="3509.4" width="34" height="34" fill="#0000FF"/>
<rect x="346.5" y="3458.3" width="34" height="34" fill="#0000FF"/>
<rect x="377.8" y="3348.7" width="34" height="34" fill="#0000FF"/>
<rect x="416.9" y="3304.4" width="34" height="34" fill="#0000FF"/>
<rect x="498.9" y="3224.3" width="34" height="34" fill="#0000FF"/>
<rect x="650.2" y="3127.8" width="34" height="34" fill="#0000FF"/>
<rect x="778.3" y="3081.9" width="34" height="34" fill="#0000FF"/>
<rect x="1053" y="3131" width="34" height="34" fill="#0000FF"/>
<rect x="1994.6" y="3204.4" width="34" height="34" fill="#0000FF"/>
<text x="215.7" y="3824" font-size="57" text-anchor="middle">0</text>
<text x="445.3" y="3824" font-size="57" text-anchor="middle">10</text>
<text x="674.9" y="3824" font-size="57" text-anchor="middle">20</text>
<text x="904.5" y="3824" font-size="57" text-anchor="middle">30</text>
<text x="1134.1" y="3824" font-size="57" text-anchor="middle">40</text>
<text x="1363.7" y="3824" font-size="57" text-anchor="middle">50</text>
<text x="1593.3" y="3824" font-size="57" text-anchor="middle">60</text>
<text x="1822.9" y="3824" font-size="57" text-anchor="middle">70</text>
<text x="2052.5" y="3824" font-size="57" text-anchor="middle">80</text>
<text x="169" y="3757.3" font-size="57" text-anchor="end">0</text>
<text x="169" y="3424.1" font-size="57" text-anchor="end">0.1</text>
<text x="169" y="3090.9" font-size="57" text-anchor="end">0.2</text>
<text x="169" y="2757.7" font-size="57" text-anchor="end">0.3</text>
<text x="169" y="2424.5" font-size="57" text-anchor="end">0.4</text>
<text x="169" y="2091.3" font-size="57" text-anchor="end">0.5</text>
<text x="1175" y="3900" font-size="62" text-anchor="middle">Pore diameter /nm</text>
<text transform="translate(66.5,2830) rotate(-90)" font-size="62" text-anchor="middle">dV(logd) /cc/g</text>
<text x="39" y="2169" font-size="62">(b)</text>
<path d="M380.7,2174 L406.7,2200 L380.7,2226 L354.7,2200Z" fill="#FF0000"/>
<path d="M380.7,2294.2 L408.2,2344.2 L353.2,2344.2Z" fill="#FF00FF" stroke-linejoin="miter"/>
<rect x="357.2" y="2417.3" width="47" height="47" fill="#0000FF"/>
<circle cx="380.6" cy="2560" r="24.5" fill="#00B050"/>
<text x="443" y="2222.1" font-size="61.8" xml:space="preserve">nanoplates</text>
<text x="443" y="2343.3" font-size="61.8" xml:space="preserve"> microflowers</text>
<text x="443" y="2462.9" font-size="61.8" xml:space="preserve"> nanorods</text>
<text x="443" y="2583.1" font-size="61.8" xml:space="preserve"> nanocubes</text>
</svg>
</body></html>
